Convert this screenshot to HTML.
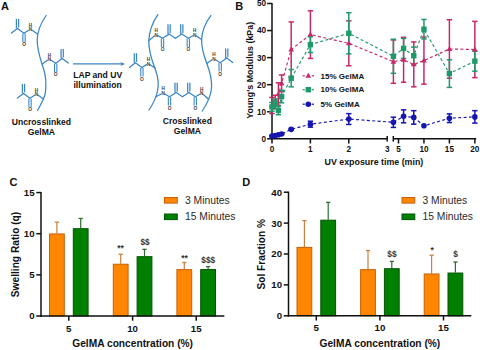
<!DOCTYPE html>
<html><head><meta charset="utf-8"><style>
html,body{margin:0;padding:0;background:#fff;width:480px;height:350px;overflow:hidden}
svg{display:block}
text{font-family:"Liberation Sans", sans-serif}
</style></head><body>
<svg width="480" height="350" viewBox="0 0 480 350">
<rect width="480" height="350" fill="#fff"/>
<path d="M46.2,15.5 C41.5,22 37.5,30 37.2,40 C37.2,52 41.5,62 44.5,72 C47,82 46,94 43.4,99 C41.5,103 39.5,107 37.5,110.5" fill="none" stroke="#3a86c6" stroke-width="1.25" stroke-linecap="round"/>
<line x1="37.40" y1="34.00" x2="32.20" y2="30.36" stroke="#3a86c6" stroke-width="1.25" stroke-linecap="round"/>
<line x1="28.56" y1="30.31" x2="24.00" y2="33.30" stroke="#3a86c6" stroke-width="1.25" stroke-linecap="round"/>
<line x1="24.00" y1="33.30" x2="17.50" y2="28.50" stroke="#3a86c6" stroke-width="1.25" stroke-linecap="round"/>
<line x1="17.50" y1="28.50" x2="11.40" y2="33.10" stroke="#3a86c6" stroke-width="1.25" stroke-linecap="round"/>
<line x1="16.40" y1="28.50" x2="16.40" y2="18.90" stroke="#3a86c6" stroke-width="1.25" />
<line x1="18.60" y1="27.50" x2="18.60" y2="18.90" stroke="#3a86c6" stroke-width="1.25" />
<line x1="22.85" y1="33.80" x2="22.85" y2="42.10" stroke="#3a86c6" stroke-width="1.1" />
<line x1="25.15" y1="33.80" x2="25.15" y2="42.10" stroke="#3a86c6" stroke-width="1.1" />
<text x="30.40" y="31.20" font-size="4.6" text-anchor="middle" font-weight="bold" fill="#3a3a3a" >N</text>
<text x="30.40" y="26.60" font-size="4.6" text-anchor="middle" font-weight="bold" fill="#3a3a3a" >H</text>
<text x="24.00" y="46.40" font-size="4.8" text-anchor="middle" font-weight="bold" fill="#3a3a3a" >O</text>
<line x1="42.30" y1="64.00" x2="47.50" y2="60.36" stroke="#3a86c6" stroke-width="1.25" stroke-linecap="round"/>
<line x1="51.14" y1="60.31" x2="55.70" y2="63.30" stroke="#3a86c6" stroke-width="1.25" stroke-linecap="round"/>
<line x1="55.70" y1="63.30" x2="62.20" y2="58.50" stroke="#3a86c6" stroke-width="1.25" stroke-linecap="round"/>
<line x1="62.20" y1="58.50" x2="68.30" y2="63.10" stroke="#3a86c6" stroke-width="1.25" stroke-linecap="round"/>
<line x1="61.10" y1="58.50" x2="61.10" y2="48.90" stroke="#3a86c6" stroke-width="1.25" />
<line x1="63.30" y1="57.50" x2="63.30" y2="48.90" stroke="#3a86c6" stroke-width="1.25" />
<line x1="54.55" y1="63.80" x2="54.55" y2="72.10" stroke="#3a86c6" stroke-width="1.1" />
<line x1="56.85" y1="63.80" x2="56.85" y2="72.10" stroke="#3a86c6" stroke-width="1.1" />
<text x="49.30" y="61.20" font-size="4.6" text-anchor="middle" font-weight="bold" fill="#3a3a3a" >N</text>
<text x="49.30" y="56.60" font-size="4.6" text-anchor="middle" font-weight="bold" fill="#3a3a3a" >H</text>
<text x="55.70" y="76.40" font-size="4.8" text-anchor="middle" font-weight="bold" fill="#3a3a3a" >O</text>
<line x1="43.40" y1="98.90" x2="38.20" y2="95.26" stroke="#3a86c6" stroke-width="1.25" stroke-linecap="round"/>
<line x1="34.56" y1="95.21" x2="30.00" y2="98.20" stroke="#3a86c6" stroke-width="1.25" stroke-linecap="round"/>
<line x1="30.00" y1="98.20" x2="23.50" y2="93.40" stroke="#3a86c6" stroke-width="1.25" stroke-linecap="round"/>
<line x1="23.50" y1="93.40" x2="17.40" y2="98.00" stroke="#3a86c6" stroke-width="1.25" stroke-linecap="round"/>
<line x1="22.40" y1="93.40" x2="22.40" y2="83.80" stroke="#3a86c6" stroke-width="1.25" />
<line x1="24.60" y1="92.40" x2="24.60" y2="83.80" stroke="#3a86c6" stroke-width="1.25" />
<line x1="28.85" y1="98.70" x2="28.85" y2="107.00" stroke="#3a86c6" stroke-width="1.1" />
<line x1="31.15" y1="98.70" x2="31.15" y2="107.00" stroke="#3a86c6" stroke-width="1.1" />
<text x="36.40" y="96.10" font-size="4.6" text-anchor="middle" font-weight="bold" fill="#3a3a3a" >N</text>
<text x="36.40" y="91.50" font-size="4.6" text-anchor="middle" font-weight="bold" fill="#3a3a3a" >H</text>
<text x="30.00" y="111.30" font-size="4.8" text-anchor="middle" font-weight="bold" fill="#3a3a3a" >O</text>
<line x1="73.00" y1="63.90" x2="122.50" y2="63.90" stroke="#3a86c6" stroke-width="1.2" />
<path d="M125,63.9 L120.5,61.9 L121.5,63.9 L120.5,65.9 Z" fill="#3a86c6"/>
<path d="M157.8,14.6 C153.5,21 149.3,30 148.8,40.7 C148.5,52 152.5,62 155.5,70 C158,77 159,85 157.5,91 C156.5,96 153,104 149,110" fill="none" stroke="#3a86c6" stroke-width="1.25" stroke-linecap="round"/>
<path d="M210.8,15.6 C206,22 202,30 201.6,40 C201.5,50 204.5,57 207,64 C210,72 212.2,80 211.5,88 C211,95 207,104 202.2,111" fill="none" stroke="#3a86c6" stroke-width="1.25" stroke-linecap="round"/>
<line x1="148.90" y1="40.60" x2="154.42" y2="35.92" stroke="#3a86c6" stroke-width="1.25" stroke-linecap="round"/>
<line x1="157.99" y1="35.62" x2="162.50" y2="38.30" stroke="#3a86c6" stroke-width="1.25" stroke-linecap="round"/>
<line x1="162.50" y1="38.30" x2="169.10" y2="34.10" stroke="#3a86c6" stroke-width="1.25" stroke-linecap="round"/>
<line x1="169.10" y1="34.10" x2="175.50" y2="38.30" stroke="#3a86c6" stroke-width="1.25" stroke-linecap="round"/>
<line x1="175.50" y1="38.30" x2="181.80" y2="34.10" stroke="#3a86c6" stroke-width="1.25" stroke-linecap="round"/>
<line x1="181.80" y1="34.10" x2="188.30" y2="38.30" stroke="#3a86c6" stroke-width="1.25" stroke-linecap="round"/>
<line x1="188.30" y1="38.30" x2="192.78" y2="35.78" stroke="#3a86c6" stroke-width="1.25" stroke-linecap="round"/>
<line x1="196.52" y1="35.94" x2="201.60" y2="39.40" stroke="#3a86c6" stroke-width="1.25" stroke-linecap="round"/>
<line x1="168.00" y1="34.10" x2="168.00" y2="24.30" stroke="#3a86c6" stroke-width="1.25" />
<line x1="170.20" y1="33.10" x2="170.20" y2="24.30" stroke="#3a86c6" stroke-width="1.25" />
<line x1="180.70" y1="34.10" x2="180.70" y2="24.30" stroke="#3a86c6" stroke-width="1.25" />
<line x1="182.90" y1="33.10" x2="182.90" y2="24.30" stroke="#3a86c6" stroke-width="1.25" />
<line x1="161.35" y1="38.80" x2="161.35" y2="47.10" stroke="#3a86c6" stroke-width="1.1" />
<line x1="163.65" y1="38.80" x2="163.65" y2="47.10" stroke="#3a86c6" stroke-width="1.1" />
<line x1="187.15" y1="38.80" x2="187.15" y2="47.10" stroke="#3a86c6" stroke-width="1.1" />
<line x1="189.45" y1="38.80" x2="189.45" y2="47.10" stroke="#3a86c6" stroke-width="1.1" />
<text x="156.10" y="36.60" font-size="4.6" text-anchor="middle" font-weight="bold" fill="#3a3a3a" >N</text>
<text x="156.10" y="32.00" font-size="4.6" text-anchor="middle" font-weight="bold" fill="#3a3a3a" >H</text>
<text x="194.70" y="36.80" font-size="4.6" text-anchor="middle" font-weight="bold" fill="#3a3a3a" >N</text>
<text x="194.70" y="32.20" font-size="4.6" text-anchor="middle" font-weight="bold" fill="#3a3a3a" >H</text>
<text x="162.50" y="51.40" font-size="4.8" text-anchor="middle" font-weight="bold" fill="#3a3a3a" >O</text>
<text x="188.30" y="51.40" font-size="4.8" text-anchor="middle" font-weight="bold" fill="#3a3a3a" >O</text>
<line x1="155.30" y1="68.30" x2="150.10" y2="64.66" stroke="#3a86c6" stroke-width="1.25" stroke-linecap="round"/>
<line x1="146.46" y1="64.61" x2="141.90" y2="67.60" stroke="#3a86c6" stroke-width="1.25" stroke-linecap="round"/>
<line x1="141.90" y1="67.60" x2="135.40" y2="62.80" stroke="#3a86c6" stroke-width="1.25" stroke-linecap="round"/>
<line x1="135.40" y1="62.80" x2="129.30" y2="67.40" stroke="#3a86c6" stroke-width="1.25" stroke-linecap="round"/>
<line x1="134.30" y1="62.80" x2="134.30" y2="53.20" stroke="#3a86c6" stroke-width="1.25" />
<line x1="136.50" y1="61.80" x2="136.50" y2="53.20" stroke="#3a86c6" stroke-width="1.25" />
<line x1="140.75" y1="68.10" x2="140.75" y2="76.40" stroke="#3a86c6" stroke-width="1.1" />
<line x1="143.05" y1="68.10" x2="143.05" y2="76.40" stroke="#3a86c6" stroke-width="1.1" />
<text x="148.30" y="65.50" font-size="4.6" text-anchor="middle" font-weight="bold" fill="#3a3a3a" >N</text>
<text x="148.30" y="60.90" font-size="4.6" text-anchor="middle" font-weight="bold" fill="#3a3a3a" >H</text>
<text x="141.90" y="80.70" font-size="4.8" text-anchor="middle" font-weight="bold" fill="#3a3a3a" >O</text>
<line x1="206.80" y1="63.50" x2="212.00" y2="59.86" stroke="#3a86c6" stroke-width="1.25" stroke-linecap="round"/>
<line x1="215.64" y1="59.81" x2="220.20" y2="62.80" stroke="#3a86c6" stroke-width="1.25" stroke-linecap="round"/>
<line x1="220.20" y1="62.80" x2="226.70" y2="58.00" stroke="#3a86c6" stroke-width="1.25" stroke-linecap="round"/>
<line x1="226.70" y1="58.00" x2="232.80" y2="62.60" stroke="#3a86c6" stroke-width="1.25" stroke-linecap="round"/>
<line x1="225.60" y1="58.00" x2="225.60" y2="48.40" stroke="#3a86c6" stroke-width="1.25" />
<line x1="227.80" y1="57.00" x2="227.80" y2="48.40" stroke="#3a86c6" stroke-width="1.25" />
<line x1="219.05" y1="63.30" x2="219.05" y2="71.60" stroke="#3a86c6" stroke-width="1.1" />
<line x1="221.35" y1="63.30" x2="221.35" y2="71.60" stroke="#3a86c6" stroke-width="1.1" />
<text x="213.80" y="60.70" font-size="4.6" text-anchor="middle" font-weight="bold" fill="#3a3a3a" >N</text>
<text x="213.80" y="56.10" font-size="4.6" text-anchor="middle" font-weight="bold" fill="#3a3a3a" >H</text>
<text x="220.20" y="75.90" font-size="4.8" text-anchor="middle" font-weight="bold" fill="#3a3a3a" >O</text>
<line x1="155.90" y1="96.80" x2="161.17" y2="93.95" stroke="#3a86c6" stroke-width="1.25" stroke-linecap="round"/>
<line x1="164.99" y1="94.02" x2="169.50" y2="96.70" stroke="#3a86c6" stroke-width="1.25" stroke-linecap="round"/>
<line x1="169.50" y1="96.70" x2="176.10" y2="92.50" stroke="#3a86c6" stroke-width="1.25" stroke-linecap="round"/>
<line x1="176.10" y1="92.50" x2="182.50" y2="96.70" stroke="#3a86c6" stroke-width="1.25" stroke-linecap="round"/>
<line x1="182.50" y1="96.70" x2="188.80" y2="92.50" stroke="#3a86c6" stroke-width="1.25" stroke-linecap="round"/>
<line x1="188.80" y1="92.50" x2="195.30" y2="96.70" stroke="#3a86c6" stroke-width="1.25" stroke-linecap="round"/>
<line x1="195.30" y1="96.70" x2="199.78" y2="94.18" stroke="#3a86c6" stroke-width="1.25" stroke-linecap="round"/>
<line x1="203.34" y1="94.57" x2="208.50" y2="99.20" stroke="#3a86c6" stroke-width="1.25" stroke-linecap="round"/>
<line x1="175.00" y1="92.50" x2="175.00" y2="82.70" stroke="#3a86c6" stroke-width="1.25" />
<line x1="177.20" y1="91.50" x2="177.20" y2="82.70" stroke="#3a86c6" stroke-width="1.25" />
<line x1="187.70" y1="92.50" x2="187.70" y2="82.70" stroke="#3a86c6" stroke-width="1.25" />
<line x1="189.90" y1="91.50" x2="189.90" y2="82.70" stroke="#3a86c6" stroke-width="1.25" />
<line x1="168.35" y1="97.20" x2="168.35" y2="105.50" stroke="#3a86c6" stroke-width="1.1" />
<line x1="170.65" y1="97.20" x2="170.65" y2="105.50" stroke="#3a86c6" stroke-width="1.1" />
<line x1="194.15" y1="97.20" x2="194.15" y2="105.50" stroke="#3a86c6" stroke-width="1.1" />
<line x1="196.45" y1="97.20" x2="196.45" y2="105.50" stroke="#3a86c6" stroke-width="1.1" />
<text x="163.10" y="95.00" font-size="4.6" text-anchor="middle" font-weight="bold" fill="#3a3a3a" >N</text>
<text x="163.10" y="90.40" font-size="4.6" text-anchor="middle" font-weight="bold" fill="#3a3a3a" >H</text>
<text x="201.70" y="95.20" font-size="4.6" text-anchor="middle" font-weight="bold" fill="#3a3a3a" >N</text>
<text x="201.70" y="90.60" font-size="4.6" text-anchor="middle" font-weight="bold" fill="#3a3a3a" >H</text>
<text x="169.50" y="109.80" font-size="4.8" text-anchor="middle" font-weight="bold" fill="#3a3a3a" >O</text>
<text x="195.30" y="109.80" font-size="4.8" text-anchor="middle" font-weight="bold" fill="#3a3a3a" >O</text>
<text x="41.40" y="124.70" font-size="8.6" text-anchor="middle" font-weight="bold" fill="#111" >Uncrosslinked</text>
<text x="41.40" y="135.00" font-size="8.6" text-anchor="middle" font-weight="bold" fill="#111" >GelMA</text>
<text x="97.70" y="77.70" font-size="8.6" text-anchor="middle" font-weight="bold" fill="#111" >LAP and UV</text>
<text x="97.60" y="87.60" font-size="8.6" text-anchor="middle" font-weight="bold" fill="#111" >illumination</text>
<text x="187.30" y="123.50" font-size="8.6" text-anchor="middle" font-weight="bold" fill="#111" >Crosslinked</text>
<text x="187.40" y="134.00" font-size="8.6" text-anchor="middle" font-weight="bold" fill="#111" >GelMA</text>
<text x="1.00" y="9.90" font-size="11" text-anchor="start" font-weight="bold" fill="#111" >A</text>
<text x="235.30" y="10.20" font-size="11" text-anchor="start" font-weight="bold" fill="#111" >B</text>
<line x1="272.00" y1="3.00" x2="272.00" y2="139.60" stroke="#111" stroke-width="1.5" />
<line x1="267.10" y1="138.80" x2="272.00" y2="138.80" stroke="#111" stroke-width="1.5" />
<text x="266.10" y="141.70" font-size="8.2" text-anchor="end" font-weight="bold" fill="#111" >0</text>
<line x1="267.10" y1="111.74" x2="272.00" y2="111.74" stroke="#111" stroke-width="1.5" />
<text x="266.10" y="114.64" font-size="8.2" text-anchor="end" font-weight="bold" fill="#111" >10</text>
<line x1="267.10" y1="84.68" x2="272.00" y2="84.68" stroke="#111" stroke-width="1.5" />
<text x="266.10" y="87.58" font-size="8.2" text-anchor="end" font-weight="bold" fill="#111" >20</text>
<line x1="267.10" y1="57.62" x2="272.00" y2="57.62" stroke="#111" stroke-width="1.5" />
<text x="266.10" y="60.52" font-size="8.2" text-anchor="end" font-weight="bold" fill="#111" >30</text>
<line x1="267.10" y1="30.56" x2="272.00" y2="30.56" stroke="#111" stroke-width="1.5" />
<text x="266.10" y="33.46" font-size="8.2" text-anchor="end" font-weight="bold" fill="#111" >40</text>
<line x1="267.10" y1="3.50" x2="272.00" y2="3.50" stroke="#111" stroke-width="1.5" />
<text x="266.10" y="6.40" font-size="8.2" text-anchor="end" font-weight="bold" fill="#111" >50</text>
<line x1="271.25" y1="138.80" x2="387.20" y2="138.80" stroke="#111" stroke-width="1.5" />
<line x1="393.30" y1="138.80" x2="476.20" y2="138.80" stroke="#111" stroke-width="1.5" />
<line x1="387.20" y1="136.00" x2="387.20" y2="141.60" stroke="#111" stroke-width="1.5" />
<line x1="393.30" y1="136.00" x2="393.30" y2="141.60" stroke="#111" stroke-width="1.5" />
<line x1="272.00" y1="138.80" x2="272.00" y2="143.50" stroke="#111" stroke-width="1.5" />
<text x="272.00" y="152.40" font-size="8.2" text-anchor="middle" font-weight="bold" fill="#111" >0</text>
<line x1="310.40" y1="138.80" x2="310.40" y2="143.50" stroke="#111" stroke-width="1.5" />
<text x="310.40" y="152.40" font-size="8.2" text-anchor="middle" font-weight="bold" fill="#111" >1</text>
<line x1="348.80" y1="138.80" x2="348.80" y2="143.50" stroke="#111" stroke-width="1.5" />
<text x="348.80" y="152.40" font-size="8.2" text-anchor="middle" font-weight="bold" fill="#111" >2</text>
<text x="387.20" y="152.40" font-size="8.2" text-anchor="middle" font-weight="bold" fill="#111" >3</text>
<line x1="398.50" y1="138.80" x2="398.50" y2="143.50" stroke="#111" stroke-width="1.5" />
<text x="398.50" y="152.40" font-size="8.2" text-anchor="middle" font-weight="bold" fill="#111" >5</text>
<line x1="423.95" y1="138.80" x2="423.95" y2="143.50" stroke="#111" stroke-width="1.5" />
<text x="423.95" y="152.40" font-size="8.2" text-anchor="middle" font-weight="bold" fill="#111" >10</text>
<line x1="449.40" y1="138.80" x2="449.40" y2="143.50" stroke="#111" stroke-width="1.5" />
<text x="449.40" y="152.40" font-size="8.2" text-anchor="middle" font-weight="bold" fill="#111" >15</text>
<line x1="474.85" y1="138.80" x2="474.85" y2="143.50" stroke="#111" stroke-width="1.5" />
<text x="474.85" y="152.40" font-size="8.2" text-anchor="middle" font-weight="bold" fill="#111" >20</text>
<text x="373.90" y="165.40" font-size="8.85" text-anchor="middle" font-weight="bold" fill="#111" >UV exposure time (min)</text>
<text x="0.00" y="0.00" font-size="8.85" text-anchor="middle" font-weight="bold" fill="#111" transform="translate(252.8,70.3) rotate(-90)">Young's  Modulus (kPa)</text>
<polyline points="272.00,105.52 275.19,102.00 278.41,94.15 281.60,83.33 291.20,49.50 310.40,34.62 348.80,43.28 393.41,61.68 403.59,59.78 413.77,64.39 423.95,60.60 449.40,48.96 474.85,49.50" fill="none" stroke="#c8286a" stroke-width="1.15" stroke-dasharray="3,2.4"/>
<line x1="272.00" y1="113.63" x2="272.00" y2="97.40" stroke="#c8286a" stroke-width="1.5" />
<line x1="269.30" y1="97.40" x2="274.70" y2="97.40" stroke="#c8286a" stroke-width="1.5" />
<line x1="269.30" y1="113.63" x2="274.70" y2="113.63" stroke="#c8286a" stroke-width="1.5" />
<line x1="275.19" y1="108.76" x2="275.19" y2="95.23" stroke="#c8286a" stroke-width="1.5" />
<line x1="272.49" y1="95.23" x2="277.89" y2="95.23" stroke="#c8286a" stroke-width="1.5" />
<line x1="272.49" y1="108.76" x2="277.89" y2="108.76" stroke="#c8286a" stroke-width="1.5" />
<line x1="278.41" y1="105.52" x2="278.41" y2="82.79" stroke="#c8286a" stroke-width="1.5" />
<line x1="275.71" y1="82.79" x2="281.11" y2="82.79" stroke="#c8286a" stroke-width="1.5" />
<line x1="275.71" y1="105.52" x2="281.11" y2="105.52" stroke="#c8286a" stroke-width="1.5" />
<line x1="281.60" y1="91.72" x2="281.60" y2="74.94" stroke="#c8286a" stroke-width="1.5" />
<line x1="278.90" y1="74.94" x2="284.30" y2="74.94" stroke="#c8286a" stroke-width="1.5" />
<line x1="278.90" y1="91.72" x2="284.30" y2="91.72" stroke="#c8286a" stroke-width="1.5" />
<line x1="291.20" y1="77.10" x2="291.20" y2="21.90" stroke="#c8286a" stroke-width="1.5" />
<line x1="288.50" y1="21.90" x2="293.90" y2="21.90" stroke="#c8286a" stroke-width="1.5" />
<line x1="288.50" y1="77.10" x2="293.90" y2="77.10" stroke="#c8286a" stroke-width="1.5" />
<line x1="310.40" y1="58.43" x2="310.40" y2="10.81" stroke="#c8286a" stroke-width="1.5" />
<line x1="307.70" y1="10.81" x2="313.10" y2="10.81" stroke="#c8286a" stroke-width="1.5" />
<line x1="307.70" y1="58.43" x2="313.10" y2="58.43" stroke="#c8286a" stroke-width="1.5" />
<line x1="348.80" y1="65.74" x2="348.80" y2="20.82" stroke="#c8286a" stroke-width="1.5" />
<line x1="346.10" y1="20.82" x2="351.50" y2="20.82" stroke="#c8286a" stroke-width="1.5" />
<line x1="346.10" y1="65.74" x2="351.50" y2="65.74" stroke="#c8286a" stroke-width="1.5" />
<line x1="393.41" y1="83.33" x2="393.41" y2="40.03" stroke="#c8286a" stroke-width="1.5" />
<line x1="390.71" y1="40.03" x2="396.11" y2="40.03" stroke="#c8286a" stroke-width="1.5" />
<line x1="390.71" y1="83.33" x2="396.11" y2="83.33" stroke="#c8286a" stroke-width="1.5" />
<line x1="403.59" y1="82.24" x2="403.59" y2="37.33" stroke="#c8286a" stroke-width="1.5" />
<line x1="400.89" y1="37.33" x2="406.29" y2="37.33" stroke="#c8286a" stroke-width="1.5" />
<line x1="400.89" y1="82.24" x2="406.29" y2="82.24" stroke="#c8286a" stroke-width="1.5" />
<line x1="413.77" y1="86.84" x2="413.77" y2="41.93" stroke="#c8286a" stroke-width="1.5" />
<line x1="411.07" y1="41.93" x2="416.47" y2="41.93" stroke="#c8286a" stroke-width="1.5" />
<line x1="411.07" y1="86.84" x2="416.47" y2="86.84" stroke="#c8286a" stroke-width="1.5" />
<line x1="423.95" y1="84.14" x2="423.95" y2="37.05" stroke="#c8286a" stroke-width="1.5" />
<line x1="421.25" y1="37.05" x2="426.65" y2="37.05" stroke="#c8286a" stroke-width="1.5" />
<line x1="421.25" y1="84.14" x2="426.65" y2="84.14" stroke="#c8286a" stroke-width="1.5" />
<line x1="449.40" y1="78.19" x2="449.40" y2="19.74" stroke="#c8286a" stroke-width="1.5" />
<line x1="446.70" y1="19.74" x2="452.10" y2="19.74" stroke="#c8286a" stroke-width="1.5" />
<line x1="446.70" y1="78.19" x2="452.10" y2="78.19" stroke="#c8286a" stroke-width="1.5" />
<line x1="474.85" y1="77.64" x2="474.85" y2="21.36" stroke="#c8286a" stroke-width="1.5" />
<line x1="472.15" y1="21.36" x2="477.55" y2="21.36" stroke="#c8286a" stroke-width="1.5" />
<line x1="472.15" y1="77.64" x2="477.55" y2="77.64" stroke="#c8286a" stroke-width="1.5" />
<polyline points="272.00,106.87 275.19,102.81 278.41,110.39 281.60,96.59 291.20,78.19 310.40,44.63 348.80,33.27 393.41,56.27 403.59,48.42 413.77,55.73 423.95,29.21 449.40,73.59 474.85,61.14" fill="none" stroke="#1e9a6a" stroke-width="1.15" stroke-dasharray="3,2.4"/>
<line x1="272.00" y1="111.20" x2="272.00" y2="102.54" stroke="#1e9a6a" stroke-width="1.5" />
<line x1="269.30" y1="102.54" x2="274.70" y2="102.54" stroke="#1e9a6a" stroke-width="1.5" />
<line x1="269.30" y1="111.20" x2="274.70" y2="111.20" stroke="#1e9a6a" stroke-width="1.5" />
<line x1="275.19" y1="106.60" x2="275.19" y2="99.02" stroke="#1e9a6a" stroke-width="1.5" />
<line x1="272.49" y1="99.02" x2="277.89" y2="99.02" stroke="#1e9a6a" stroke-width="1.5" />
<line x1="272.49" y1="106.60" x2="277.89" y2="106.60" stroke="#1e9a6a" stroke-width="1.5" />
<line x1="278.41" y1="114.72" x2="278.41" y2="106.06" stroke="#1e9a6a" stroke-width="1.5" />
<line x1="275.71" y1="106.06" x2="281.11" y2="106.06" stroke="#1e9a6a" stroke-width="1.5" />
<line x1="275.71" y1="114.72" x2="281.11" y2="114.72" stroke="#1e9a6a" stroke-width="1.5" />
<line x1="281.60" y1="102.81" x2="281.60" y2="90.36" stroke="#1e9a6a" stroke-width="1.5" />
<line x1="278.90" y1="90.36" x2="284.30" y2="90.36" stroke="#1e9a6a" stroke-width="1.5" />
<line x1="278.90" y1="102.81" x2="284.30" y2="102.81" stroke="#1e9a6a" stroke-width="1.5" />
<line x1="291.20" y1="86.84" x2="291.20" y2="69.53" stroke="#1e9a6a" stroke-width="1.5" />
<line x1="288.50" y1="69.53" x2="293.90" y2="69.53" stroke="#1e9a6a" stroke-width="1.5" />
<line x1="288.50" y1="86.84" x2="293.90" y2="86.84" stroke="#1e9a6a" stroke-width="1.5" />
<line x1="310.40" y1="52.48" x2="310.40" y2="36.78" stroke="#1e9a6a" stroke-width="1.5" />
<line x1="307.70" y1="36.78" x2="313.10" y2="36.78" stroke="#1e9a6a" stroke-width="1.5" />
<line x1="307.70" y1="52.48" x2="313.10" y2="52.48" stroke="#1e9a6a" stroke-width="1.5" />
<line x1="348.80" y1="53.83" x2="348.80" y2="12.70" stroke="#1e9a6a" stroke-width="1.5" />
<line x1="346.10" y1="12.70" x2="351.50" y2="12.70" stroke="#1e9a6a" stroke-width="1.5" />
<line x1="346.10" y1="53.83" x2="351.50" y2="53.83" stroke="#1e9a6a" stroke-width="1.5" />
<line x1="393.41" y1="73.31" x2="393.41" y2="39.22" stroke="#1e9a6a" stroke-width="1.5" />
<line x1="390.71" y1="39.22" x2="396.11" y2="39.22" stroke="#1e9a6a" stroke-width="1.5" />
<line x1="390.71" y1="73.31" x2="396.11" y2="73.31" stroke="#1e9a6a" stroke-width="1.5" />
<line x1="403.59" y1="58.43" x2="403.59" y2="38.41" stroke="#1e9a6a" stroke-width="1.5" />
<line x1="400.89" y1="38.41" x2="406.29" y2="38.41" stroke="#1e9a6a" stroke-width="1.5" />
<line x1="400.89" y1="58.43" x2="406.29" y2="58.43" stroke="#1e9a6a" stroke-width="1.5" />
<line x1="413.77" y1="64.39" x2="413.77" y2="47.07" stroke="#1e9a6a" stroke-width="1.5" />
<line x1="411.07" y1="47.07" x2="416.47" y2="47.07" stroke="#1e9a6a" stroke-width="1.5" />
<line x1="411.07" y1="64.39" x2="416.47" y2="64.39" stroke="#1e9a6a" stroke-width="1.5" />
<line x1="423.95" y1="38.95" x2="423.95" y2="19.47" stroke="#1e9a6a" stroke-width="1.5" />
<line x1="421.25" y1="19.47" x2="426.65" y2="19.47" stroke="#1e9a6a" stroke-width="1.5" />
<line x1="421.25" y1="38.95" x2="426.65" y2="38.95" stroke="#1e9a6a" stroke-width="1.5" />
<line x1="449.40" y1="87.39" x2="449.40" y2="59.78" stroke="#1e9a6a" stroke-width="1.5" />
<line x1="446.70" y1="59.78" x2="452.10" y2="59.78" stroke="#1e9a6a" stroke-width="1.5" />
<line x1="446.70" y1="87.39" x2="452.10" y2="87.39" stroke="#1e9a6a" stroke-width="1.5" />
<line x1="474.85" y1="71.15" x2="474.85" y2="51.13" stroke="#1e9a6a" stroke-width="1.5" />
<line x1="472.15" y1="51.13" x2="477.55" y2="51.13" stroke="#1e9a6a" stroke-width="1.5" />
<line x1="472.15" y1="71.15" x2="477.55" y2="71.15" stroke="#1e9a6a" stroke-width="1.5" />
<path d="M272.00,102.52 L274.85,107.47 L269.15,107.47 Z" fill="#c8286a"/>
<path d="M275.19,99.00 L278.04,103.95 L272.34,103.95 Z" fill="#c8286a"/>
<path d="M278.41,91.15 L281.26,96.10 L275.56,96.10 Z" fill="#c8286a"/>
<path d="M281.60,80.33 L284.45,85.28 L278.75,85.28 Z" fill="#c8286a"/>
<path d="M291.20,46.50 L294.05,51.45 L288.35,51.45 Z" fill="#c8286a"/>
<path d="M310.40,31.62 L313.25,36.57 L307.55,36.57 Z" fill="#c8286a"/>
<path d="M348.80,40.28 L351.65,45.23 L345.95,45.23 Z" fill="#c8286a"/>
<path d="M393.41,58.68 L396.26,63.63 L390.56,63.63 Z" fill="#c8286a"/>
<path d="M403.59,56.78 L406.44,61.73 L400.74,61.73 Z" fill="#c8286a"/>
<path d="M413.77,61.39 L416.62,66.34 L410.92,66.34 Z" fill="#c8286a"/>
<path d="M423.95,57.60 L426.80,62.55 L421.10,62.55 Z" fill="#c8286a"/>
<path d="M449.40,45.96 L452.25,50.91 L446.55,50.91 Z" fill="#c8286a"/>
<path d="M474.85,46.50 L477.70,51.45 L472.00,51.45 Z" fill="#c8286a"/>
<rect x="269.30" y="104.17" width="5.40" height="5.40" fill="#1e9a6a"/>
<rect x="272.49" y="100.11" width="5.40" height="5.40" fill="#1e9a6a"/>
<rect x="275.71" y="107.69" width="5.40" height="5.40" fill="#1e9a6a"/>
<rect x="278.90" y="93.89" width="5.40" height="5.40" fill="#1e9a6a"/>
<rect x="288.50" y="75.49" width="5.40" height="5.40" fill="#1e9a6a"/>
<rect x="307.70" y="41.93" width="5.40" height="5.40" fill="#1e9a6a"/>
<rect x="346.10" y="30.57" width="5.40" height="5.40" fill="#1e9a6a"/>
<rect x="390.71" y="53.57" width="5.40" height="5.40" fill="#1e9a6a"/>
<rect x="400.89" y="45.72" width="5.40" height="5.40" fill="#1e9a6a"/>
<rect x="411.07" y="53.03" width="5.40" height="5.40" fill="#1e9a6a"/>
<rect x="421.25" y="26.51" width="5.40" height="5.40" fill="#1e9a6a"/>
<rect x="446.70" y="70.89" width="5.40" height="5.40" fill="#1e9a6a"/>
<rect x="472.15" y="58.44" width="5.40" height="5.40" fill="#1e9a6a"/>
<polyline points="272.00,136.09 275.19,135.55 278.41,134.74 281.60,133.93 291.20,129.33 310.40,124.19 348.80,119.05 393.41,122.29 403.59,116.34 413.77,117.42 423.95,125.81 449.40,118.23 474.85,116.88" fill="none" stroke="#1515b0" stroke-width="1.15" stroke-dasharray="3,2.4"/>
<line x1="272.00" y1="136.64" x2="272.00" y2="135.55" stroke="#1515b0" stroke-width="1.5" />
<line x1="269.30" y1="135.55" x2="274.70" y2="135.55" stroke="#1515b0" stroke-width="1.5" />
<line x1="269.30" y1="136.64" x2="274.70" y2="136.64" stroke="#1515b0" stroke-width="1.5" />
<line x1="275.19" y1="136.09" x2="275.19" y2="135.01" stroke="#1515b0" stroke-width="1.5" />
<line x1="272.49" y1="135.01" x2="277.89" y2="135.01" stroke="#1515b0" stroke-width="1.5" />
<line x1="272.49" y1="136.09" x2="277.89" y2="136.09" stroke="#1515b0" stroke-width="1.5" />
<line x1="278.41" y1="135.28" x2="278.41" y2="134.20" stroke="#1515b0" stroke-width="1.5" />
<line x1="275.71" y1="134.20" x2="281.11" y2="134.20" stroke="#1515b0" stroke-width="1.5" />
<line x1="275.71" y1="135.28" x2="281.11" y2="135.28" stroke="#1515b0" stroke-width="1.5" />
<line x1="281.60" y1="134.47" x2="281.60" y2="133.39" stroke="#1515b0" stroke-width="1.5" />
<line x1="278.90" y1="133.39" x2="284.30" y2="133.39" stroke="#1515b0" stroke-width="1.5" />
<line x1="278.90" y1="134.47" x2="284.30" y2="134.47" stroke="#1515b0" stroke-width="1.5" />
<line x1="291.20" y1="130.14" x2="291.20" y2="128.52" stroke="#1515b0" stroke-width="1.5" />
<line x1="288.50" y1="128.52" x2="293.90" y2="128.52" stroke="#1515b0" stroke-width="1.5" />
<line x1="288.50" y1="130.14" x2="293.90" y2="130.14" stroke="#1515b0" stroke-width="1.5" />
<line x1="310.40" y1="127.16" x2="310.40" y2="121.21" stroke="#1515b0" stroke-width="1.5" />
<line x1="307.70" y1="121.21" x2="313.10" y2="121.21" stroke="#1515b0" stroke-width="1.5" />
<line x1="307.70" y1="127.16" x2="313.10" y2="127.16" stroke="#1515b0" stroke-width="1.5" />
<line x1="348.80" y1="124.46" x2="348.80" y2="113.63" stroke="#1515b0" stroke-width="1.5" />
<line x1="346.10" y1="113.63" x2="351.50" y2="113.63" stroke="#1515b0" stroke-width="1.5" />
<line x1="346.10" y1="124.46" x2="351.50" y2="124.46" stroke="#1515b0" stroke-width="1.5" />
<line x1="393.41" y1="127.43" x2="393.41" y2="117.15" stroke="#1515b0" stroke-width="1.5" />
<line x1="390.71" y1="117.15" x2="396.11" y2="117.15" stroke="#1515b0" stroke-width="1.5" />
<line x1="390.71" y1="127.43" x2="396.11" y2="127.43" stroke="#1515b0" stroke-width="1.5" />
<line x1="403.59" y1="122.83" x2="403.59" y2="109.85" stroke="#1515b0" stroke-width="1.5" />
<line x1="400.89" y1="109.85" x2="406.29" y2="109.85" stroke="#1515b0" stroke-width="1.5" />
<line x1="400.89" y1="122.83" x2="406.29" y2="122.83" stroke="#1515b0" stroke-width="1.5" />
<line x1="413.77" y1="124.19" x2="413.77" y2="110.66" stroke="#1515b0" stroke-width="1.5" />
<line x1="411.07" y1="110.66" x2="416.47" y2="110.66" stroke="#1515b0" stroke-width="1.5" />
<line x1="411.07" y1="124.19" x2="416.47" y2="124.19" stroke="#1515b0" stroke-width="1.5" />
<line x1="449.40" y1="122.56" x2="449.40" y2="113.90" stroke="#1515b0" stroke-width="1.5" />
<line x1="446.70" y1="113.90" x2="452.10" y2="113.90" stroke="#1515b0" stroke-width="1.5" />
<line x1="446.70" y1="122.56" x2="452.10" y2="122.56" stroke="#1515b0" stroke-width="1.5" />
<line x1="474.85" y1="123.11" x2="474.85" y2="110.66" stroke="#1515b0" stroke-width="1.5" />
<line x1="472.15" y1="110.66" x2="477.55" y2="110.66" stroke="#1515b0" stroke-width="1.5" />
<line x1="472.15" y1="123.11" x2="477.55" y2="123.11" stroke="#1515b0" stroke-width="1.5" />
<circle cx="272.00" cy="136.09" r="2.8" fill="#1515b0"/>
<circle cx="275.19" cy="135.55" r="2.8" fill="#1515b0"/>
<circle cx="278.41" cy="134.74" r="2.8" fill="#1515b0"/>
<circle cx="281.60" cy="133.93" r="2.8" fill="#1515b0"/>
<circle cx="291.20" cy="129.33" r="2.8" fill="#1515b0"/>
<circle cx="310.40" cy="124.19" r="2.8" fill="#1515b0"/>
<circle cx="348.80" cy="119.05" r="2.8" fill="#1515b0"/>
<circle cx="393.41" cy="122.29" r="2.8" fill="#1515b0"/>
<circle cx="403.59" cy="116.34" r="2.8" fill="#1515b0"/>
<circle cx="413.77" cy="117.42" r="2.8" fill="#1515b0"/>
<circle cx="423.95" cy="125.81" r="2.8" fill="#1515b0"/>
<circle cx="449.40" cy="118.23" r="2.8" fill="#1515b0"/>
<circle cx="474.85" cy="116.88" r="2.8" fill="#1515b0"/>
<line x1="302.60" y1="75.80" x2="304.80" y2="75.80" stroke="#c8286a" stroke-width="1.2" />
<line x1="311.80" y1="75.80" x2="314.00" y2="75.80" stroke="#c8286a" stroke-width="1.2" />
<path d="M308.30,72.80 L311.15,77.75 L305.45,77.75 Z" fill="#c8286a"/>
<text x="320.60" y="78.50" font-size="8.0" text-anchor="start" font-weight="bold" fill="#111" >15% GelMA</text>
<line x1="302.60" y1="89.70" x2="304.80" y2="89.70" stroke="#1e9a6a" stroke-width="1.2" />
<line x1="311.80" y1="89.70" x2="314.00" y2="89.70" stroke="#1e9a6a" stroke-width="1.2" />
<rect x="305.60" y="87.00" width="5.40" height="5.40" fill="#1e9a6a"/>
<text x="320.60" y="92.40" font-size="8.0" text-anchor="start" font-weight="bold" fill="#111" >10% GelMA</text>
<line x1="302.60" y1="104.20" x2="304.80" y2="104.20" stroke="#1515b0" stroke-width="1.2" />
<line x1="311.80" y1="104.20" x2="314.00" y2="104.20" stroke="#1515b0" stroke-width="1.2" />
<circle cx="308.30" cy="104.20" r="2.8" fill="#1515b0"/>
<text x="320.60" y="106.90" font-size="8.0" text-anchor="start" font-weight="bold" fill="#111" >5% GelMA</text>
<line x1="56.90" y1="233.45" x2="56.90" y2="222.18" stroke="#cc7f3c" stroke-width="1.2" />
<line x1="54.80" y1="222.18" x2="59.00" y2="222.18" stroke="#cc7f3c" stroke-width="1.3" />
<rect x="49.50" y="233.95" width="14.8" height="82.05" fill="#ff8600" stroke="#c86008" stroke-width="1"/>
<line x1="80.70" y1="228.19" x2="80.70" y2="218.47" stroke="#2a6e30" stroke-width="1.2" />
<line x1="78.60" y1="218.47" x2="82.80" y2="218.47" stroke="#2a6e30" stroke-width="1.3" />
<rect x="73.30" y="228.69" width="14.8" height="87.31" fill="#007f00" stroke="#005500" stroke-width="1"/>
<line x1="120.70" y1="263.74" x2="120.70" y2="254.28" stroke="#cc7f3c" stroke-width="1.2" />
<line x1="118.60" y1="254.28" x2="122.80" y2="254.28" stroke="#cc7f3c" stroke-width="1.3" />
<rect x="113.30" y="264.24" width="14.8" height="51.76" fill="#ff8600" stroke="#c86008" stroke-width="1"/>
<line x1="144.50" y1="256.17" x2="144.50" y2="249.34" stroke="#2a6e30" stroke-width="1.2" />
<line x1="142.40" y1="249.34" x2="146.60" y2="249.34" stroke="#2a6e30" stroke-width="1.3" />
<rect x="137.10" y="256.67" width="14.8" height="59.33" fill="#007f00" stroke="#005500" stroke-width="1"/>
<line x1="184.30" y1="269.09" x2="184.30" y2="262.50" stroke="#cc7f3c" stroke-width="1.2" />
<line x1="182.20" y1="262.50" x2="186.40" y2="262.50" stroke="#cc7f3c" stroke-width="1.3" />
<rect x="176.90" y="269.59" width="14.8" height="46.41" fill="#ff8600" stroke="#c86008" stroke-width="1"/>
<line x1="208.10" y1="269.09" x2="208.10" y2="266.62" stroke="#2a6e30" stroke-width="1.2" />
<line x1="206.00" y1="266.62" x2="210.20" y2="266.62" stroke="#2a6e30" stroke-width="1.3" />
<rect x="200.70" y="269.59" width="14.8" height="46.41" fill="#007f00" stroke="#005500" stroke-width="1"/>
<line x1="41.00" y1="192.00" x2="41.00" y2="316.75" stroke="#111" stroke-width="1.5" />
<line x1="36.30" y1="316.00" x2="41.00" y2="316.00" stroke="#111" stroke-width="1.5" />
<text x="34.60" y="319.45" font-size="9.7" text-anchor="end" font-weight="bold" fill="#111" >0</text>
<line x1="36.30" y1="274.85" x2="41.00" y2="274.85" stroke="#111" stroke-width="1.5" />
<text x="34.60" y="278.30" font-size="9.7" text-anchor="end" font-weight="bold" fill="#111" >5</text>
<line x1="36.30" y1="233.70" x2="41.00" y2="233.70" stroke="#111" stroke-width="1.5" />
<text x="34.60" y="237.15" font-size="9.7" text-anchor="end" font-weight="bold" fill="#111" >10</text>
<line x1="36.30" y1="192.55" x2="41.00" y2="192.55" stroke="#111" stroke-width="1.5" />
<text x="34.60" y="196.00" font-size="9.7" text-anchor="end" font-weight="bold" fill="#111" >15</text>
<line x1="40.25" y1="316.00" x2="224.30" y2="316.00" stroke="#111" stroke-width="1.5" />
<line x1="68.80" y1="316.00" x2="68.80" y2="320.70" stroke="#111" stroke-width="1.5" />
<text x="68.80" y="331.60" font-size="9.7" text-anchor="middle" font-weight="bold" fill="#111" >5</text>
<line x1="132.60" y1="316.00" x2="132.60" y2="320.70" stroke="#111" stroke-width="1.5" />
<text x="132.60" y="331.60" font-size="9.7" text-anchor="middle" font-weight="bold" fill="#111" >10</text>
<line x1="196.20" y1="316.00" x2="196.20" y2="320.70" stroke="#111" stroke-width="1.5" />
<text x="196.20" y="331.60" font-size="9.7" text-anchor="middle" font-weight="bold" fill="#111" >15</text>
<text x="120.50" y="251.30" font-size="8.5" text-anchor="middle" font-weight="bold" fill="#333" >**</text>
<text x="145.00" y="244.80" font-size="8.3" text-anchor="middle" font-weight="bold" fill="#333" >$$</text>
<text x="184.60" y="260.50" font-size="8.5" text-anchor="middle" font-weight="bold" fill="#333" >**</text>
<text x="208.20" y="262.80" font-size="8.3" text-anchor="middle" font-weight="bold" fill="#333" >$$$</text>
<text x="9.60" y="186.00" font-size="11" text-anchor="start" font-weight="bold" fill="#111" >C</text>
<text x="132.65" y="346.90" font-size="10.2" text-anchor="middle" font-weight="bold" fill="#111" >GelMA concentration (%)</text>
<text x="0.00" y="0.00" font-size="10.2" text-anchor="middle" font-weight="bold" fill="#111" transform="translate(18.8,254.5) rotate(-90)">Swelling Ratio (q)</text>
<rect x="164.5" y="197.5" width="12.8" height="5.6" fill="#ff8600" stroke="#c86008" stroke-width="1"/>
<rect x="164.5" y="214.0" width="12.8" height="5.6" fill="#007f00" stroke="#005500" stroke-width="1"/>
<text x="185.00" y="203.70" font-size="10.3" text-anchor="start" font-weight="normal" fill="#2a2a2a" >3 Minutes</text>
<text x="185.00" y="220.20" font-size="10.3" text-anchor="start" font-weight="normal" fill="#2a2a2a" >15 Minutes</text>
<line x1="304.40" y1="246.89" x2="304.40" y2="220.63" stroke="#cc7f3c" stroke-width="1.2" />
<line x1="302.30" y1="220.63" x2="306.50" y2="220.63" stroke="#cc7f3c" stroke-width="1.3" />
<rect x="297.00" y="247.39" width="14.8" height="68.41" fill="#ff8600" stroke="#c86008" stroke-width="1"/>
<line x1="328.20" y1="219.70" x2="328.20" y2="202.40" stroke="#2a6e30" stroke-width="1.2" />
<line x1="326.10" y1="202.40" x2="330.30" y2="202.40" stroke="#2a6e30" stroke-width="1.3" />
<rect x="320.80" y="220.20" width="14.8" height="95.60" fill="#007f00" stroke="#005500" stroke-width="1"/>
<line x1="368.00" y1="269.14" x2="368.00" y2="250.60" stroke="#cc7f3c" stroke-width="1.2" />
<line x1="365.90" y1="250.60" x2="370.10" y2="250.60" stroke="#cc7f3c" stroke-width="1.3" />
<rect x="360.60" y="269.64" width="14.8" height="46.16" fill="#ff8600" stroke="#c86008" stroke-width="1"/>
<line x1="391.80" y1="268.21" x2="391.80" y2="261.42" stroke="#2a6e30" stroke-width="1.2" />
<line x1="389.70" y1="261.42" x2="393.90" y2="261.42" stroke="#2a6e30" stroke-width="1.3" />
<rect x="384.40" y="268.71" width="14.8" height="47.09" fill="#007f00" stroke="#005500" stroke-width="1"/>
<line x1="431.60" y1="273.47" x2="431.60" y2="255.24" stroke="#cc7f3c" stroke-width="1.2" />
<line x1="429.50" y1="255.24" x2="433.70" y2="255.24" stroke="#cc7f3c" stroke-width="1.3" />
<rect x="424.20" y="273.97" width="14.8" height="41.83" fill="#ff8600" stroke="#c86008" stroke-width="1"/>
<line x1="455.40" y1="272.54" x2="455.40" y2="262.03" stroke="#2a6e30" stroke-width="1.2" />
<line x1="453.30" y1="262.03" x2="457.50" y2="262.03" stroke="#2a6e30" stroke-width="1.3" />
<rect x="448.00" y="273.04" width="14.8" height="42.76" fill="#007f00" stroke="#005500" stroke-width="1"/>
<line x1="288.50" y1="191.60" x2="288.50" y2="316.55" stroke="#111" stroke-width="1.5" />
<line x1="283.80" y1="315.80" x2="288.50" y2="315.80" stroke="#111" stroke-width="1.5" />
<text x="282.10" y="319.25" font-size="9.7" text-anchor="end" font-weight="bold" fill="#111" >0</text>
<line x1="283.80" y1="284.90" x2="288.50" y2="284.90" stroke="#111" stroke-width="1.5" />
<text x="282.10" y="288.35" font-size="9.7" text-anchor="end" font-weight="bold" fill="#111" >10</text>
<line x1="283.80" y1="254.00" x2="288.50" y2="254.00" stroke="#111" stroke-width="1.5" />
<text x="282.10" y="257.45" font-size="9.7" text-anchor="end" font-weight="bold" fill="#111" >20</text>
<line x1="283.80" y1="223.10" x2="288.50" y2="223.10" stroke="#111" stroke-width="1.5" />
<text x="282.10" y="226.55" font-size="9.7" text-anchor="end" font-weight="bold" fill="#111" >30</text>
<line x1="283.80" y1="192.20" x2="288.50" y2="192.20" stroke="#111" stroke-width="1.5" />
<text x="282.10" y="195.65" font-size="9.7" text-anchor="end" font-weight="bold" fill="#111" >40</text>
<line x1="287.75" y1="315.80" x2="471.30" y2="315.80" stroke="#111" stroke-width="1.5" />
<line x1="316.30" y1="315.80" x2="316.30" y2="320.50" stroke="#111" stroke-width="1.5" />
<text x="316.30" y="331.40" font-size="9.7" text-anchor="middle" font-weight="bold" fill="#111" >5</text>
<line x1="379.90" y1="315.80" x2="379.90" y2="320.50" stroke="#111" stroke-width="1.5" />
<text x="379.90" y="331.40" font-size="9.7" text-anchor="middle" font-weight="bold" fill="#111" >10</text>
<line x1="443.50" y1="315.80" x2="443.50" y2="320.50" stroke="#111" stroke-width="1.5" />
<text x="443.50" y="331.40" font-size="9.7" text-anchor="middle" font-weight="bold" fill="#111" >15</text>
<text x="391.90" y="257.20" font-size="8.3" text-anchor="middle" font-weight="bold" fill="#333" >$$</text>
<text x="432.20" y="253.00" font-size="8.5" text-anchor="middle" font-weight="bold" fill="#333" >*</text>
<text x="455.50" y="256.80" font-size="8.3" text-anchor="middle" font-weight="bold" fill="#333" >$</text>
<text x="242.30" y="185.80" font-size="11" text-anchor="start" font-weight="bold" fill="#111" >D</text>
<text x="379.90" y="346.90" font-size="10.2" text-anchor="middle" font-weight="bold" fill="#111" >GelMA concentration (%)</text>
<text x="0.00" y="0.00" font-size="10.2" text-anchor="middle" font-weight="bold" fill="#111" transform="translate(265.0,254.2) rotate(-90)">Sol Fraction %</text>
<rect x="402.0" y="197.5" width="12.8" height="5.6" fill="#ff8600" stroke="#c86008" stroke-width="1"/>
<rect x="402.0" y="214.0" width="12.8" height="5.6" fill="#007f00" stroke="#005500" stroke-width="1"/>
<text x="422.50" y="203.70" font-size="10.3" text-anchor="start" font-weight="normal" fill="#2a2a2a" >3 Minutes</text>
<text x="422.50" y="220.20" font-size="10.3" text-anchor="start" font-weight="normal" fill="#2a2a2a" >15 Minutes</text>
</svg>
</body></html>
